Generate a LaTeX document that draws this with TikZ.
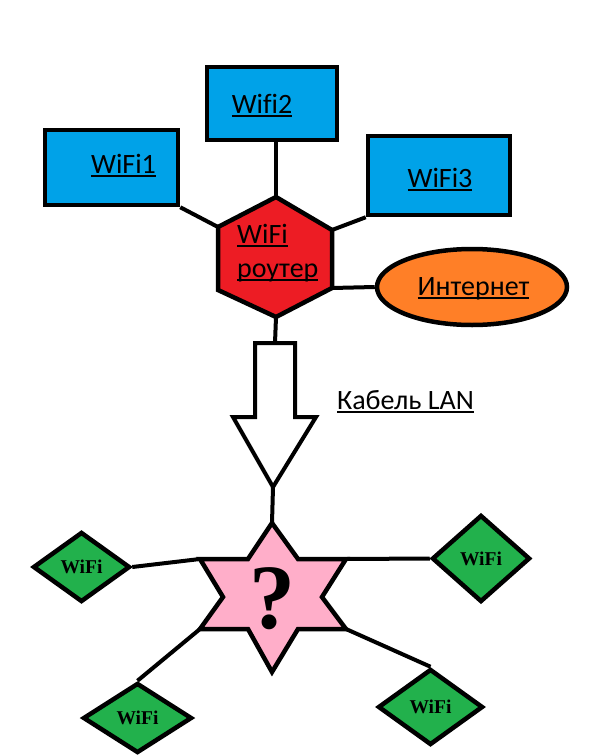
\documentclass[tikz,border=0pt]{standalone}
\usepackage{fontspec}
\setmainfont{Carlito}[Ligatures=NoCommon]
\newfontfamily\qfont{Liberation Serif}
\usetikzlibrary{shapes.geometric}
\definecolor{pblue}{HTML}{00A2E8}
\definecolor{pred}{HTML}{ED1C24}
\definecolor{porange}{HTML}{FF7F27}
\definecolor{pgreen}{HTML}{22B14C}
\definecolor{ppink}{HTML}{FFAEC9}
\newcommand{\myul}[1]{\setbox0=\hbox{#1}\rlap{\rule[-4pt]{\wd0}{1.8pt}}\box0}
\tikzset{
  box/.style={draw=black, fill=pblue, line width=4.5pt, inner sep=0pt},
  lbl/.style={inner sep=0pt, font=\fontsize{28}{34}\selectfont},
  dia/.style={diamond, draw=black, fill=pgreen, line width=4.5pt, inner sep=0pt,
    font=\qfont\bfseries\fontsize{19.5}{21}\selectfont},
  conn/.style={line width=4pt, black},
}
\begin{document}
\begin{tikzpicture}[x=1pt,y=-1pt]
\useasboundingbox[fill=white] (0,0) rectangle (590,755);

% hexagon corner coordinates
\coordinate (hT) at (276,197);
\coordinate (hUL) at (218,227);
\coordinate (hLL) at (218,290);
\coordinate (hB) at (276,317);
\coordinate (hLR) at (332,288);
\coordinate (hUR) at (332,230);

% arrow coordinates
\coordinate (aTL) at (255,343);
\coordinate (aTop) at (275,343);
\coordinate (aTR) at (295,343);
\coordinate (aSR) at (295,417);
\coordinate (aWR) at (316,417);
\coordinate (aTip) at (273,487);
\coordinate (aWL) at (233,417);
\coordinate (aSL) at (255,417);

% star coordinates
\coordinate (sT) at (272,523);
\coordinate (sITR) at (298,559);
\coordinate (sUR) at (346,559);
\coordinate (sIR) at (322,597);
\coordinate (sLR) at (346,629);
\coordinate (sIBR) at (298,629);
\coordinate (sB) at (272,672);
\coordinate (sIBL) at (248,629);
\coordinate (sLL) at (200,629);
\coordinate (sIL) at (223,597);
\coordinate (sUL) at (200,559);
\coordinate (sITL) at (248,559);

% top boxes
\node[box, minimum width=133pt, minimum height=75pt] (w1) at (111.5,167.5) {};
\node[box, minimum width=130pt, minimum height=73pt] (w2) at (272,103.5) {};
\node[box, minimum width=142pt, minimum height=79pt] (w3) at (439,175.5) {};
\node[ellipse, draw=black, fill=porange, line width=4.5pt, inner sep=0pt,
      minimum width=190pt, minimum height=76pt] (inet) at (472,287) {};

% diamonds
\node[dia, minimum width=97pt, minimum height=70pt] (d1) at (81.5,567) {WiFi};
\node[dia, minimum width=98pt, minimum height=87pt] (d2) at (481,558.5) {WiFi};
\node[dia, minimum width=109pt, minimum height=70pt] (d3) at (137.5,718) {WiFi};
\node[dia, minimum width=105pt, minimum height=76pt] (d4) at (430.5,707) {WiFi};

% connectors
\draw[conn] (w1.south east) -- (hUL);
\draw[conn] (w2.south -| hT) -- (hT);
\draw[conn] (w3.south west) -- (hUR);
\draw[conn] (hLR) -- (inet.west);
\draw[conn] (hB) -- (aTop);
\draw[conn] (aTip) -- (sT);
\draw[conn] (d1.east) -- (sUL);
\draw[conn] (d2.west) -- (sUR);
\draw[conn] (d3.north) -- (sLL);
\draw[conn] (d4.north) -- (sLR);

% hexagon
\draw[line width=4.5pt, fill=pred, line join=miter]
  (hT) -- (hUR) -- (hLR) -- (hB) -- (hLL) -- (hUL) -- cycle;

% arrow
\draw[line width=4pt, fill=white, line join=miter]
  (aTL) -- (aTR) -- (aSR) -- (aWR) -- (aTip) -- (aWL) -- (aSL) -- cycle;

% star
\draw[line width=4.5pt, fill=ppink, line join=miter]
  (sT) -- (sITR) -- (sUR) -- (sIR) -- (sLR) -- (sIBR) -- (sB) -- (sIBL)
  -- (sLL) -- (sIL) -- (sUL) -- (sITL) -- cycle;
\node[inner sep=0pt, font=\qfont\bfseries\fontsize{92}{92}\selectfont] (q) at (272,599) {?};

% labels
\node[lbl, anchor=base] (t1) at (123.5,173) {\myul{WiFi1}};
\node[lbl, anchor=base] (t2) at (262,113) {\myul{Wifi2}};
\node[lbl, anchor=base] (t3) at (440,187) {\myul{WiFi3}};
\node[lbl, anchor=base west] (tr1) at (237,243) {\myul{WiFi}};
\node[lbl, anchor=base west] (tr2) at (237,277) {\myul{роутер}};
\node[lbl, anchor=base] (ti) at (473.5,295) {\myul{Интернет}};
\node[lbl, anchor=base west] (tk) at (337,409) {\myul{Кабель LAN}};
\end{tikzpicture}
\end{document}
